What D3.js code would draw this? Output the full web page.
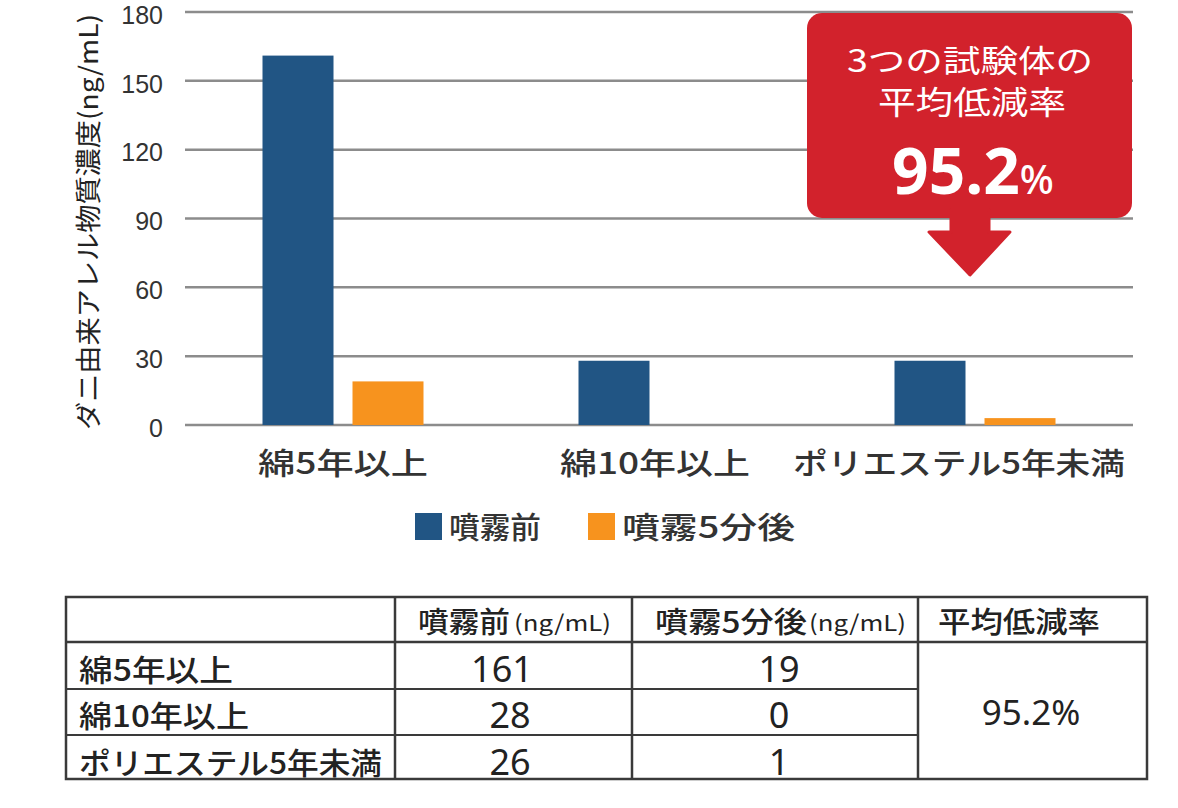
<!DOCTYPE html>
<html><head><meta charset="utf-8">
<script src="https://cdn.jsdelivr.net/npm/d3@7/dist/d3.min.js"></script>
<style>
html,body{margin:0;padding:0;background:#fff;}
svg{display:block;}
</style></head>
<body>
<svg id="c" width="1178" height="808"></svg>
<script>
// ---- data ----
const categories = ["綿5年以上", "綿10年以上", "ポリエステル5年未満"];
const seriesNames = ["噴霧前", "噴霧5分後"];
const beforeValues = [161, 28, 28];   // bar heights as drawn
const afterValues = [19, 0, 3];
const yTicks = [0, 30, 60, 90, 120, 150, 180];
const tableBefore = ["161", "28", "26"];
const tableAfter = ["19", "0", "1"];
const avgRate = "95.2%";
const calloutLines = ["3つの試験体の", "平均低減率"];
const yTitle = "ダニ由来アレル物質濃度(ng/mL)";

const colors = ["#215584", "#f7931e"];
const svg = d3.select("#c");
const JP = "'Noto Sans CJK JP','Noto Sans',sans-serif";

const x0 = d3.scaleBand().domain(categories).range([185, 1133]).padding(0);
const x1 = d3.scaleBand().domain(seriesNames).range([0, 161]).paddingInner(19/90);
const y = d3.scaleLinear().domain([0, 180]).range([425, 12]);

// grid
svg.append("g").selectAll("line").data(yTicks).join("line")
  .attr("x1", 185).attr("x2", 1133)
  .attr("y1", d => y(d)).attr("y2", d => y(d))
  .attr("stroke", "#8c8c8c").attr("stroke-width", 2.5);

// y tick labels
svg.append("g").selectAll("text").data(yTicks).join("text")
  .attr("x", 163).attr("y", d => y(d) + 3)
  .attr("dy", "0.35em").attr("text-anchor", "end")
  .attr("font-family", "'Liberation Sans',Arial,sans-serif")
  .attr("font-size", 25).attr("fill", "#333")
  .text(d => d);

// y title
svg.append("text")
  .attr("transform", "translate(98,222) rotate(-90)")
  .attr("text-anchor", "middle")
  .attr("font-family", JP).attr("font-size", 26).attr("font-weight", 400)
  .attr("fill", "#222")
  .attr("textLength", 416).attr("lengthAdjust", "spacingAndGlyphs")
  .text(yTitle);

// bars
const rows = categories.map((c, i) => ({c, vals: [beforeValues[i], afterValues[i]]}));
const g = svg.append("g").selectAll("g").data(rows).join("g")
  .attr("transform", d => `translate(${x0(d.c) + (x0.bandwidth() - 161) / 2},0)`);
g.selectAll("rect").data(d => d.vals.map((v, k) => ({v, k}))).join("rect")
  .attr("x", d => x1(seriesNames[d.k]))
  .attr("width", x1.bandwidth())
  .attr("y", d => y(d.v))
  .attr("height", d => y(0) - y(d.v))
  .attr("fill", d => colors[d.k]);

// category labels
const catWidths = [170, 190, 332];
const catCenters = [343, 655, 959];
svg.append("g").selectAll("text").data(categories).join("text")
  .attr("x", (d, i) => catCenters[i]).attr("y", 474)
  .attr("text-anchor", "middle")
  .attr("font-family", JP).attr("font-size", 30).attr("font-weight", 500)
  .attr("fill", "#333")
  .attr("textLength", (d, i) => catWidths[i]).attr("lengthAdjust", "spacingAndGlyphs")
  .text(d => d);

// legend
const legX = [415, 588];
const legW = [92, 173];
const lg = svg.append("g").selectAll("g").data(seriesNames).join("g")
  .attr("transform", (d, i) => `translate(${legX[i]},0)`);
lg.append("rect").attr("x", 0).attr("y", 513).attr("width", 27).attr("height", 27)
  .attr("fill", (d, i) => colors[i]);
lg.append("text").attr("x", 34).attr("y", 538)
  .attr("font-family", JP).attr("font-size", 30).attr("font-weight", 500).attr("fill", "#333")
  .attr("textLength", (d, i) => legW[i]).attr("lengthAdjust", "spacingAndGlyphs")
  .text(d => d);

// callout
const red = "#d2222c";
svg.append("rect").attr("x", 807).attr("y", 13).attr("width", 325).attr("height", 205)
  .attr("rx", 15).attr("fill", red);
svg.append("path")
  .attr("d", "M951,210 L989,210 L989,232 L1010,232 L970,275 L929,232 L951,232 Z")
  .attr("fill", red).attr("stroke", red).attr("stroke-width", 3).attr("stroke-linejoin", "round");
svg.append("text").attr("x", 970).attr("y", 72).attr("text-anchor", "middle")
  .attr("font-family", JP).attr("font-size", 31).attr("fill", "#fff")
  .attr("textLength", 246).attr("lengthAdjust", "spacingAndGlyphs")
  .text(calloutLines[0]);
svg.append("text").attr("x", 972).attr("y", 114).attr("text-anchor", "middle")
  .attr("font-family", JP).attr("font-size", 32).attr("fill", "#fff")
  .attr("textLength", 188).attr("lengthAdjust", "spacingAndGlyphs")
  .text(calloutLines[1]);
const big = svg.append("text").attr("x", 973).attr("y", 194).attr("text-anchor", "middle")
  .attr("font-family", "'Noto Sans','Open Sans',sans-serif").attr("font-weight", 700)
  .attr("fill", "#fff");
big.append("tspan").attr("font-size", 64).text(avgRate.replace("%", ""));
big.append("tspan").attr("font-size", 40).attr("font-weight", 500).text("%");

// table
const tb = svg.append("g");
const colX = [66, 395, 632, 918, 1147];
const rowY = [597, 642, 689, 735, 779];
const stroke = "#3a3a3a";
tb.append("rect").attr("x", colX[0]).attr("y", rowY[0])
  .attr("width", colX[4] - colX[0]).attr("height", rowY[4] - rowY[0])
  .attr("fill", "none").attr("stroke", stroke).attr("stroke-width", 2.5);
[1, 2, 3].forEach(k => tb.append("line").attr("x1", colX[k]).attr("x2", colX[k])
  .attr("y1", rowY[0]).attr("y2", rowY[4]).attr("stroke", stroke).attr("stroke-width", 2.5));
tb.append("line").attr("x1", colX[0]).attr("x2", colX[4]).attr("y1", rowY[1]).attr("y2", rowY[1])
  .attr("stroke", stroke).attr("stroke-width", 2.5);
[2, 3].forEach(r => tb.append("line").attr("x1", colX[0]).attr("x2", colX[3])
  .attr("y1", rowY[r]).attr("y2", rowY[r]).attr("stroke", stroke).attr("stroke-width", 2));

// header
const headers = [
  {main: seriesNames[0], unit: "(ng/mL)", x: 418, mw: 92, ux: 514},
  {main: seriesNames[1], unit: "(ng/mL)", x: 655, mw: 152, ux: 809}
];
headers.forEach(h => {
  tb.append("text").attr("x", h.x).attr("y", 633)
    .attr("font-family", JP).attr("fill", "#222")
    .attr("font-size", 29).attr("font-weight", 500)
    .attr("textLength", h.mw).attr("lengthAdjust", "spacingAndGlyphs")
    .text(h.main);
  tb.append("text").attr("x", h.ux).attr("y", 631)
    .attr("font-family", JP).attr("fill", "#222").attr("font-size", 22)
    .attr("textLength", 97).attr("lengthAdjust", "spacingAndGlyphs")
    .text(h.unit);
});
tb.append("text").attr("x", 1019).attr("y", 633).attr("text-anchor", "middle")
  .attr("font-family", JP).attr("font-size", 29).attr("font-weight", 500).attr("fill", "#222")
  .attr("textLength", 162).attr("lengthAdjust", "spacingAndGlyphs")
  .text("平均低減率");

// row labels
const rowLabelW = [154, 170, 303];
const baselines = [682, 728, 775];
tb.append("g").selectAll("text").data(categories).join("text")
  .attr("x", 79).attr("y", (d, i) => baselines[i] - 1)
  .attr("font-family", JP).attr("font-size", 30).attr("font-weight", 500).attr("fill", "#222")
  .attr("textLength", (d, i) => rowLabelW[i]).attr("lengthAdjust", "spacingAndGlyphs")
  .text(d => d);
const numFont = "'Noto Sans','Open Sans',sans-serif";
tb.append("g").selectAll("text").data(tableBefore).join("text")
  .attr("x", (d, i) => i === 0 ? 502 : 510).attr("y", (d, i) => baselines[i])
  .attr("text-anchor", "middle").attr("font-family", numFont).attr("font-size", 36).attr("fill", "#222")
  .text(d => d);
tb.append("g").selectAll("text").data(tableAfter).join("text")
  .attr("x", 779).attr("y", (d, i) => baselines[i])
  .attr("text-anchor", "middle").attr("font-family", numFont).attr("font-size", 36).attr("fill", "#222")
  .text(d => d);
tb.append("text").attr("x", 1031).attr("y", 725).attr("text-anchor", "middle")
  .attr("font-family", numFont).attr("font-size", 35).attr("fill", "#222")
  .text(avgRate);
</script>
</body></html>
